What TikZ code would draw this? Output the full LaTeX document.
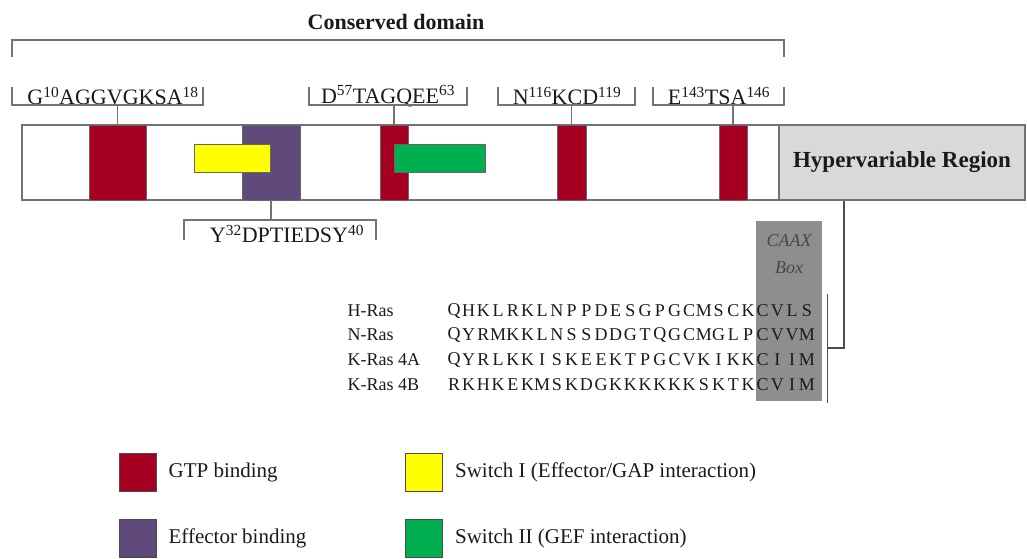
\documentclass[tikz,border=0pt]{standalone}
\usepackage{fontspec}
\setmainfont{Liberation Serif}
\usetikzlibrary{positioning}

\definecolor{gtpred}{HTML}{A50021}
\definecolor{effpurple}{HTML}{604A7B}
\definecolor{swyellow}{HTML}{FFFF00}
\definecolor{swgreen}{HTML}{00B050}
\definecolor{hvgray}{HTML}{D9D9D9}
\definecolor{caaxgray}{HTML}{8E8E8E}
\definecolor{linegray}{HTML}{737373}
\definecolor{txt}{HTML}{1A1A1A}

% one row of aligned residues
\newcommand{\seqrow}[3]{%
  \foreach \c [count=\i from 0] in {#3}
    \node[res] (#1\i) at ({454+14.7*\i},#2) {\c};}

\begin{document}
\begin{tikzpicture}[x=1pt, y=-1pt,
    bar/.style={draw=linegray, line width=1.6pt, fill=white, inner sep=0pt, minimum height=75pt},
    dom/.style={draw=black!60, line width=0.6pt, inner sep=0pt, minimum height=75pt},
    sw/.style={draw=black!60, line width=0.6pt, inner sep=0pt, minimum height=28pt},
    brk/.style={draw=linegray, line width=1.6pt},
    motif/.style={font=\fontsize{22}{24}\selectfont, text=txt, inner sep=0pt},
    title/.style={font=\fontsize{22}{26}\selectfont\bfseries, text=txt},
    lab/.style={font=\fontsize{18}{20}\selectfont, text=txt, anchor=west},
    res/.style={font=\fontsize{18}{20}\selectfont, text=txt, inner sep=0pt},
    key/.style={draw=black!70, line width=0.8pt, minimum width=37pt, minimum height=38pt, inner sep=0pt},
    keytext/.style={font=\fontsize{21}{24}\selectfont, text=txt, inner sep=0pt}
]
    \useasboundingbox (0,0) rectangle (1027,558);

    % conserved domain
    \node[title] (cons) at (396,22) {Conserved domain};
    \draw[brk] (12,57) |- (784,40) -- (784,57);

    % protein bar
    \node[bar, minimum width=1003pt] (bar) at (523.5,162.5) {};
    \node[dom, fill=gtpred, minimum width=57pt] (g1) at (117.5,162.5) {};
    \node[dom, fill=effpurple, minimum width=58pt] (eff) at (271,162.5) {};
    \node[sw, fill=swyellow, minimum width=76pt] (sw1) at (232,158) {};
    \node[dom, fill=gtpred, minimum width=28pt] (g2) at (394,162.5) {};
    \node[sw, fill=swgreen, minimum width=91pt] (sw2) at (439.5,158.5) {};
    \node[dom, fill=gtpred, minimum width=29pt] (g3) at (571.5,162.5) {};
    \node[dom, fill=gtpred, minimum width=28pt] (g4) at (733,162.5) {};
    \node[bar, fill=hvgray, minimum width=246pt, font=\fontsize{23}{26}\selectfont\bfseries, text=txt] (hvr) at (902,162.5) {Hypervariable Region};

    % motifs
    \node[motif] (m1) at (113,96) {G\textsuperscript{10}AGGVGKSA\textsuperscript{18}};
    \draw[brk] (12,87) |- (203,105) -- (203,87);
    \draw[brk] (g1.north) -- ++(0,-20);

    \node[motif] (m2) at (388,96) {D\textsuperscript{57}TAGQEE\textsuperscript{63}};
    \draw[brk] (309,87) |- (467,105) -- (467,87);
    \draw[brk] (g2.north) -- ++(0,-20);

    \node[motif] (m3) at (567,96) {N\textsuperscript{116}KCD\textsuperscript{119}};
    \draw[brk] (498,87) |- (635,105) -- (635,87);
    \draw[brk] (g3.north) -- ++(0,-20);

    \node[motif] (m4) at (719,96) {E\textsuperscript{143}TSA\textsuperscript{146}};
    \draw[brk] (653,87) |- (784,105) -- (784,87);
    \draw[brk] (g4.north) -- ++(0,-20);

    \node[motif] (m5) at (287,234) {Y\textsuperscript{32}DPTIEDSY\textsuperscript{40}};
    \draw[brk] (184,240) |- (376,220) -- (376,240);
    \draw[brk] (eff.south) -- ++(0,20);

    % CAAX box and C-terminal sequences
    \node[fill=caaxgray, minimum width=66pt, minimum height=180pt, inner sep=0pt] (caax) at (789,311) {};
    \node[font=\fontsize{18}{20}\selectfont\itshape, text=black!72, inner sep=0pt] (caaxa) at (789,241) {CAAX};
    \node[font=\fontsize{18}{20}\selectfont\itshape, text=black!72, inner sep=0pt] (caaxb) at (789,268) {Box};

    \node[lab] (hras) at (344,311) {H-Ras};
    \node[lab] (nras) at (344,335) {N-Ras};
    \node[lab] (kra) at (344,360) {K-Ras 4A};
    \node[lab] (krb) at (344,385) {K-Ras 4B};
    \seqrow{h}{311}{Q,H,K,L,R,K,L,N,P,P,D,E,S,G,P,G,C,M,S,C,K,C,V,L,S}
    \seqrow{n}{335}{Q,Y,R,M,K,K,L,N,S,S,D,D,G,T,Q,G,C,M,G,L,P,C,V,V,M}
    \seqrow{a}{360}{Q,Y,R,L,K,K,I,S,K,E,E,K,T,P,G,C,V,K,I,K,K,C,I,I,M}
    \seqrow{b}{385}{R,K,H,K,E,K,M,S,K,D,G,K,K,K,K,K,K,S,K,T,K,C,V,I,M}

    \coordinate (seqtop) at (827,294);
    \coordinate (seqbot) at (827,403);
    \coordinate (seqtap) at (827,348);
    \draw[black!70, line width=0.8pt] (seqtop) -- (seqbot);
    \draw[draw=black!70, line width=1.6pt] (hvr.south -| 844,0) |- (seqtap);

    % legend
    \node[key, fill=gtpred] (kgtp) at (137.5,472) {};
    \node[keytext, right=12pt of kgtp] (tgtp) {GTP binding};
    \node[key, fill=effpurple] (keff) at (137.5,538) {};
    \node[keytext, right=12pt of keff] (teff) {Effector binding};
    \node[key, fill=swyellow] (ksw1) at (424,472) {};
    \node[keytext, right=12pt of ksw1] (tsw1) {Switch I (Effector/GAP interaction)};
    \node[key, fill=swgreen] (ksw2) at (424,538) {};
    \node[keytext, right=12pt of ksw2] (tsw2) {Switch II (GEF interaction)};
\end{tikzpicture}
\end{document}
